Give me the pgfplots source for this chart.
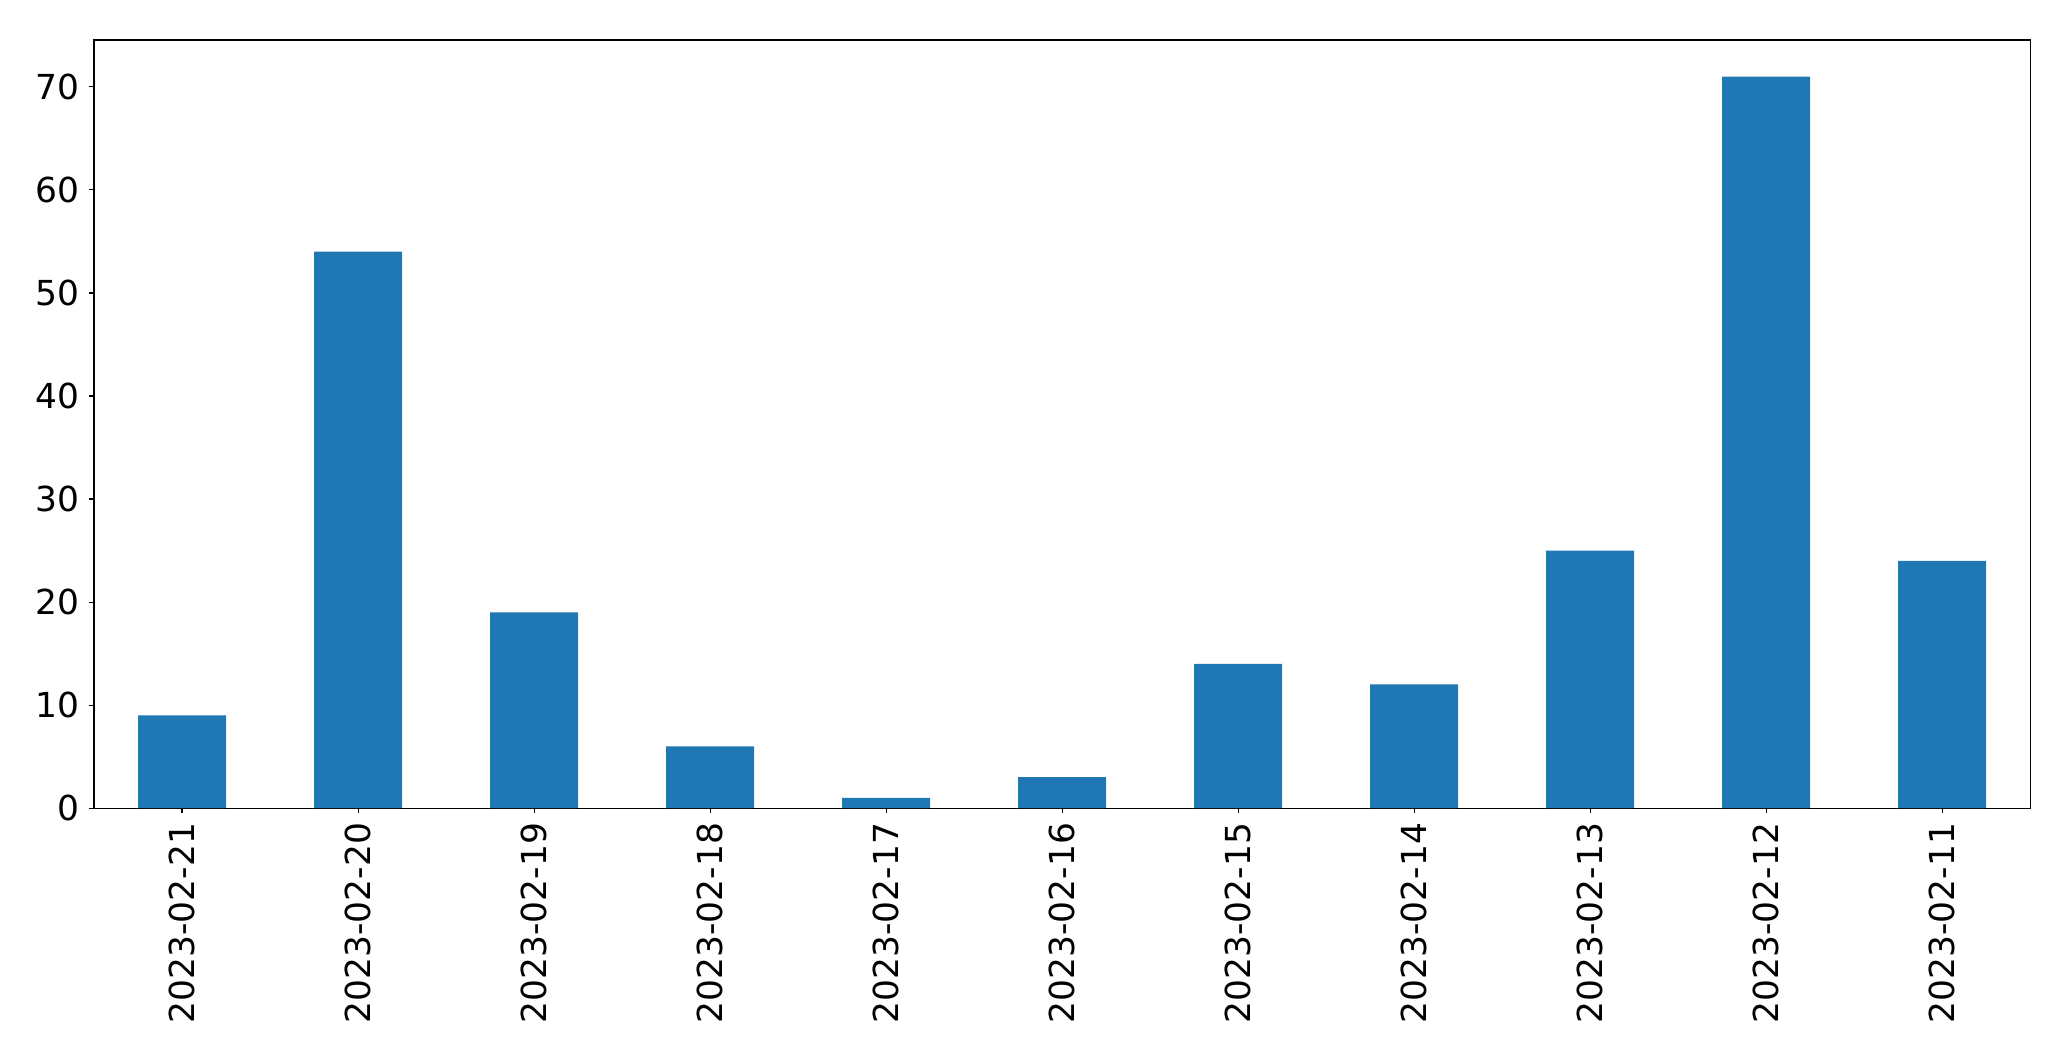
\documentclass[border=0pt]{standalone}
\usepackage{pgfplots}
\pgfplotsset{compat=1.18}
\usepackage{fontspec}
\setmainfont{DejaVu Sans}
\definecolor{mplblue}{HTML}{1F77B4}
\begin{document}
\begin{tikzpicture}
\path[use as bounding box] (-67.7pt,-182.2pt) rectangle (1423.3pt,581.8pt);
\begin{axis}[
  at={(0,0)}, anchor=south west,
  scale only axis,
  width=1393.9pt, height=553pt,
  xmin=-0.5, xmax=10.5,
  ymin=0, ymax=74.55,
  xtick={0,...,10},
  xticklabels={2023-02-21,2023-02-20,2023-02-19,2023-02-18,2023-02-17,2023-02-16,2023-02-15,2023-02-14,2023-02-13,2023-02-12,2023-02-11},
  ytick={0,10,20,30,40,50,60,70},
  tick align=outside,
  tick pos=left,
  major tick length=3.5pt,
  every tick/.style={black, line width=0.8pt},
  axis line style={line width=0.8pt},
  /pgf/number format/assume math mode=true,
  tick label style={font=\fontsize{24.8}{29}\selectfont},
  xticklabel style={rotate=90, anchor=east, inner sep=0pt, xshift=0pt},
  yticklabel style={anchor=east, inner sep=0pt, xshift=-7pt},
  xticklabel shift=7pt,
]
\addplot[ybar, bar width=0.5, fill=mplblue, draw=none] coordinates {
(0,9) (1,54) (2,19) (3,6) (4,1) (5,3) (6,14) (7,12) (8,25) (9,71) (10,24)
};
\end{axis}
\end{tikzpicture}
\end{document}
